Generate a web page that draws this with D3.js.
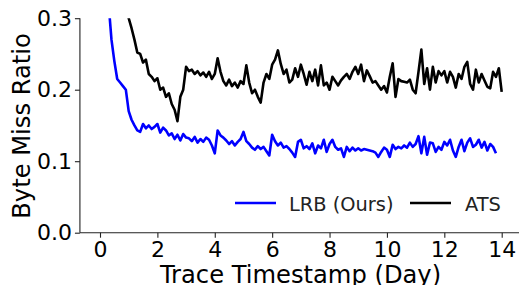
<!DOCTYPE html>
<html><head><meta charset="utf-8">
<script src="https://cdn.jsdelivr.net/npm/d3@7"></script>
<style>body{margin:0;background:#fff}svg{display:block}text{font-family:"DejaVu Sans",sans-serif}</style>
</head><body><svg id="c" width="519" height="285"></svg>
<script>
const lrbStart = 0.3, atsStart = 0.9, step = 0.1;
const lrbValues = [0.32,0.27,0.24,0.215,0.21,0.205,0.2,0.17,0.158,0.15,
0.143,0.141,0.152,0.146,0.15,0.145,0.148,0.152,0.14,0.147,
0.143,0.136,0.139,0.131,0.137,0.129,0.138,0.133,0.132,0.128,
0.134,0.126,0.131,0.127,0.133,0.13,0.122,0.111,0.143,0.136,
0.133,0.129,0.124,0.128,0.122,0.127,0.131,0.141,0.128,0.124,
0.119,0.116,0.121,0.117,0.12,0.114,0.108,0.137,0.128,0.122,
0.126,0.119,0.121,0.117,0.112,0.106,0.127,0.13,0.118,0.121,
0.117,0.125,0.111,0.122,0.118,0.13,0.113,0.124,0.13,0.12,
0.116,0.118,0.106,0.12,0.114,0.119,0.115,0.118,0.115,0.117,
0.116,0.115,0.114,0.112,0.106,0.113,0.119,0.116,0.106,0.123,
0.117,0.12,0.118,0.122,0.119,0.126,0.12,0.124,0.135,0.111,
0.134,0.109,0.126,0.125,0.113,0.12,0.116,0.127,0.122,0.13,
0.115,0.106,0.12,0.13,0.114,0.126,0.132,0.12,0.123,0.13,
0.119,0.127,0.115,0.124,0.12,0.111];
const atsValues = [0.33,0.3,0.286,0.27,0.252,0.25,0.238,0.242,0.222,0.218,
0.212,0.216,0.2,0.203,0.19,0.195,0.18,0.172,0.156,0.19,
0.2,0.232,0.226,0.228,0.222,0.226,0.22,0.224,0.218,0.225,
0.215,0.222,0.244,0.225,0.212,0.206,0.214,0.205,0.21,0.203,
0.212,0.208,0.234,0.21,0.195,0.2,0.19,0.182,0.21,0.222,
0.215,0.235,0.242,0.255,0.236,0.222,0.228,0.21,0.214,0.23,
0.218,0.235,0.222,0.207,0.225,0.212,0.228,0.206,0.234,0.206,
0.21,0.2,0.218,0.212,0.206,0.213,0.218,0.222,0.215,0.225,
0.232,0.222,0.235,0.212,0.227,0.219,0.21,0.212,0.206,0.2,
0.205,0.196,0.218,0.237,0.19,0.215,0.212,0.211,0.21,0.214,
0.2,0.195,0.225,0.256,0.208,0.23,0.2,0.232,0.21,0.226,
0.22,0.226,0.21,0.225,0.218,0.203,0.222,0.215,0.232,0.239,
0.208,0.2,0.228,0.21,0.222,0.213,0.204,0.202,0.225,0.218,
0.23,0.197];
const xTicks = [0,2,4,6,8,10,12,14];
const yTicks = [0.0,0.1,0.2,0.3];
const seriesNames = ["LRB (Ours)","ATS"];
const seriesColors = ["#0000ff","#000000"];

const svg = d3.select("#c");
const x = d3.scaleLinear().domain([0,14]).range([100,501.7]);
const y = d3.scaleLinear().domain([0,0.3]).range([232.7,18.2]);
const x0 = x(-0.7), x1 = x(14.7);

svg.append("defs").append("clipPath").attr("id","clip").append("rect")
  .attr("x",x0).attr("y",y(0.3)).attr("width",x1-x0).attr("height",y(0)-y(0.3));

const mk = (vals, start) => vals.map((v,i)=>[start+i*step, v]);
const line = d3.line().x(d=>x(d[0])).y(d=>y(d[1]));
const g = svg.append("g").attr("clip-path","url(#clip)");
[[lrbValues,lrbStart],[atsValues,atsStart]].forEach(([vals,st],i)=>{
  g.append("path").datum(mk(vals,st)).attr("d",line)
   .attr("fill","none").attr("stroke",seriesColors[i]).attr("stroke-width",2.6)
   .attr("stroke-linejoin","round");
});

// axes
const xa = svg.append("g").attr("transform",`translate(0,${y(0)})`)
  .call(d3.axisBottom(x).tickValues(xTicks).tickFormat(d3.format("d")).tickSize(5).tickPadding(3.3));
xa.select(".domain").attr("d",`M${x0},0H${x1}`);
const ya = svg.append("g").attr("transform",`translate(${x0},0)`)
  .call(d3.axisLeft(y).tickValues(yTicks).tickFormat(d3.format(".1f")).tickSize(5).tickPadding(3));
ya.select(".domain").attr("d",`M0,${y(0)}V${y(0.3)}`);
[xa,ya].forEach(a=>{
  a.select(".domain").attr("stroke","#222").attr("stroke-width",1.1);
  a.selectAll(".tick line").attr("stroke","#222").attr("stroke-width",1.1);
  a.selectAll(".tick text").attr("font-size",22).attr("fill","#000").attr("font-family","DejaVu Sans");
});

svg.append("text").attr("x",300.5).attr("y",282.5).attr("text-anchor","middle")
  .attr("font-size",24.2).text("Trace Timestamp (Day)");
svg.append("text").attr("transform","translate(30,126) rotate(-90)").attr("text-anchor","middle")
  .attr("font-size",24.2).text("Byte Miss Ratio");

// legend
const leg = [{x:235,tx:289},{x:410,tx:465}];
leg.forEach((p,i)=>{
  svg.append("line").attr("x1",p.x).attr("x2",p.x+41).attr("y1",203).attr("y2",203)
    .attr("stroke",seriesColors[i]).attr("stroke-width",2.6);
  svg.append("text").attr("x",p.tx).attr("y",210.5).attr("font-size",19.4).attr("fill","#222").text(seriesNames[i]);
});
</script></body></html>
